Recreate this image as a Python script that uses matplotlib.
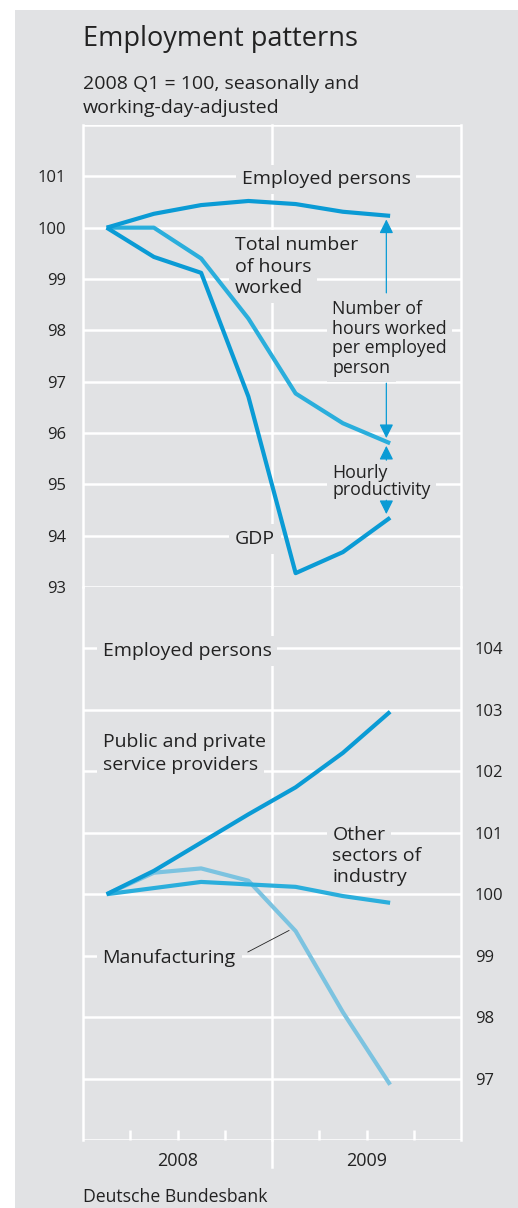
import numpy as np
import matplotlib.pyplot as plt
from matplotlib.patches import Rectangle

plt.rcParams['font.family'] = ['Open Sans', 'DejaVu Sans']

# quarters 2008 Q1 .. 2009 Q3, plotted at slot centres
quarters = ['2008 Q1', '2008 Q2', '2008 Q3', '2008 Q4', '2009 Q1', '2009 Q2', '2009 Q3']
xq = np.arange(len(quarters)) + 0.5

# top panel
employed = [100.0, 100.27, 100.44, 100.52, 100.46, 100.31, 100.23]
hours_total = [100.0, 100.0, 99.40, 98.23, 96.77, 96.19, 95.80]
gdp = [100.0, 99.43, 99.12, 96.71, 93.27, 93.68, 94.35]

# bottom panel (employed persons by sector)
services = [100.0, 100.38, 100.84, 101.30, 101.74, 102.30, 102.97]
other_sectors = [100.0, 100.10, 100.20, 100.16, 100.12, 99.97, 99.86]
manufacturing = [100.0, 100.35, 100.42, 100.22, 99.40, 98.08, 96.90]

years = ['2008', '2009']
top_ticks = [93, 94, 95, 96, 97, 98, 99, 100, 101]
bot_ticks = [97, 98, 99, 100, 101, 102, 103, 104]

BG = '#e1e2e4'
DARK = '#0a9bd5'
MID = '#2aaedc'
LIGHT = '#7cc3e0'
TXT = '#222222'

W, H = 518, 1208
fig = plt.figure(figsize=(W / 100, H / 100), dpi=100, facecolor='white')
fig.patches.append(Rectangle((15 / W, 0), 1, (H - 10) / H, transform=fig.transFigure,
                             facecolor=BG, edgecolor='none', zorder=-10))

L, R = 83 / W, 461 / W
ax1 = fig.add_axes([L, 1 - 587 / H, R - L, (587 - 125) / H])
ax2 = fig.add_axes([L, 1 - 1140 / H, R - L, (1140 - 587) / H])

for ax in (ax1, ax2):
    ax.set_facecolor('none')
    ax.set_xlim(0, 8)
    for s in ax.spines.values():
        s.set_visible(False)
    for xv in (0, 4, 8):
        ax.axvline(xv, color='white', lw=1.8, zorder=1, clip_on=False,
                   solid_capstyle='projecting')

# top panel
ax1.set_ylim(93, 102)
ax1.axhline(102, color='white', lw=1.8, zorder=1)
for v in top_ticks:
    ax1.axhline(v, color='white', lw=1.8, zorder=1)
ax1.set_xticks([])
ax1.set_yticks(top_ticks)
ax1.set_yticklabels([str(v) for v in top_ticks], fontsize=12, color=TXT)
ax1.tick_params(axis='y', length=0, pad=12)

ax1.plot(xq, employed, color=DARK, lw=3, zorder=5, solid_capstyle='butt')
ax1.plot(xq, hours_total, color=MID, lw=3, zorder=4, solid_capstyle='butt')
ax1.plot(xq, gdp, color=DARK, lw=3, zorder=5, solid_capstyle='butt')


def label(ax, x, y, lines, size=14, step=21.5):
    # background boxes first, text on top, so a box never eats the line above
    for i, t in enumerate(lines):
        ax.annotate(t, (x, y), xytext=(0, -i * step), textcoords='offset pixels',
                    ha='left', va='center', fontsize=size, color='none', zorder=2,
                    bbox=dict(boxstyle='square,pad=0.3', facecolor=BG, edgecolor='none'))
    for i, t in enumerate(lines):
        ax.annotate(t, (x, y), xytext=(0, -i * step), textcoords='offset pixels',
                    ha='left', va='center', fontsize=size, color=TXT, zorder=3)


label(ax1, 3.36, 100.94, ['Employed persons'])
label(ax1, 3.22, 99.66, ['Total number', 'of hours', 'worked'])
label(ax1, 5.28, 98.41, ['Number of', 'hours worked', 'per employed', 'person'], size=12.8, step=19.5)
label(ax1, 5.28, 95.22, ['Hourly', 'productivity'], size=12.8, step=16.5)
label(ax1, 3.22, 93.94, ['GDP'])

ax_x = 6.42
aprops = dict(arrowstyle='-|>,head_length=0.6,head_width=0.3', color=DARK, lw=0.9,
              mutation_scale=14, shrinkA=0, shrinkB=0)
ax1.annotate('', xy=(ax_x, 100.16), xytext=(ax_x, 98.73), arrowprops=aprops, zorder=6)
ax1.annotate('', xy=(ax_x, 95.90), xytext=(ax_x, 96.97), arrowprops=aprops, zorder=6)
ax1.annotate('', xy=(ax_x, 95.75), xytext=(ax_x, 95.47), arrowprops=aprops, zorder=6)
ax1.annotate('', xy=(ax_x, 94.42), xytext=(ax_x, 94.69), arrowprops=aprops, zorder=6)

# bottom panel
ax2.set_ylim(96, 105)
for v in bot_ticks:
    ax2.axhline(v, color='white', lw=1.8, zorder=1)
ax2.axhline(96, color='white', lw=1.8, zorder=1)
# year divider runs on below the frame
ax2.plot([4, 4], [96, 95.56], color='white', lw=1.8, clip_on=False, zorder=1)
ax2.yaxis.tick_right()
ax2.set_yticks(bot_ticks)
ax2.set_yticklabels([str(v) for v in bot_ticks], fontsize=12, color=TXT)
ax2.tick_params(axis='y', length=0, pad=10)
ax2.set_xticks([1, 2, 3, 5, 6, 7])
ax2.set_xticklabels([])
ax2.tick_params(axis='x', direction='in', length=7, width=1.8, color='white')
for i, y in enumerate(years):
    ax2.annotate(y, (2 + 4 * i, 96), xytext=(0, -21), textcoords='offset pixels',
                 ha='center', va='center', fontsize=13, color=TXT, annotation_clip=False)

ax2.plot(xq, manufacturing, color=LIGHT, lw=3, zorder=4, solid_capstyle='butt')
ax2.plot(xq, other_sectors, color=MID, lw=3, zorder=5, solid_capstyle='butt')
ax2.plot(xq, services, color=DARK, lw=3, zorder=5, solid_capstyle='butt')

label(ax2, 0.415, 103.96, ['Employed persons'])
label(ax2, 0.415, 102.48, ['Public and private', 'service providers'], step=23)
label(ax2, 5.28, 100.97, ['Other', 'sectors of', 'industry'], step=21)
label(ax2, 0.415, 98.96, ['Manufacturing'])
ax2.plot([3.49, 4.36], [99.06, 99.41], color='#222222', lw=0.6, zorder=6)

fig.text(L, 1 - 39 / H, 'Employment patterns', fontsize=19.5, color=TXT, va='center')
fig.text(L, 1 - 84 / H, '2008 Q1 = 100, seasonally and', fontsize=14, color=TXT, va='center')
fig.text(L, 1 - 108 / H, 'working-day-adjusted', fontsize=14, color=TXT, va='center')
fig.text(L, 1 - 1197 / H, 'Deutsche Bundesbank', fontsize=12.7, color=TXT, va='center')

plt.savefig('out.png', dpi=100, facecolor='white')
